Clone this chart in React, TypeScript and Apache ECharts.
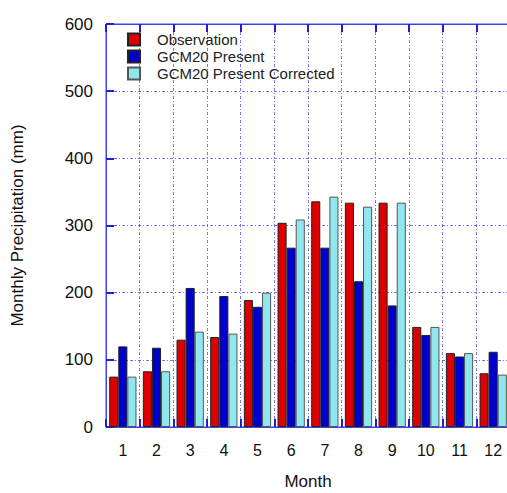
import React, { useEffect, useRef } from "react";
import * as echarts from "echarts";

const months = ["1", "2", "3", "4", "5", "6", "7", "8", "9", "10", "11", "12"];
const seriesNames = ["Observation", "GCM20 Present", "GCM20 Present Corrected"];
const observation = [75, 83, 130, 134, 189, 304, 336, 334, 334, 149, 110, 80];
const gcmPresent = [120, 118, 207, 195, 179, 267, 267, 217, 181, 137, 105, 112];
const gcmCorrected = [75, 83, 142, 139, 200, 309, 343, 328, 334, 149, 110, 78];
const yTicks = [0, 100, 200, 300, 400, 500, 600];

const colors = ["#DD0000", "#0000CC", "#90E8EE"];
const borders = ["#222222", "#222222", "#555555"];
const FONT = "Liberation Sans, Arial, sans-serif";
const AXIS_BLUE = "#4040E8";

export default function App() {
  const ref = useRef<HTMLDivElement>(null);
  useEffect(() => {
    if (!ref.current) return;
    const chart = echarts.init(ref.current, undefined, { renderer: "svg" });
    const values = [observation, gcmPresent, gcmCorrected];
    const gridLine = {
      show: true,
      lineStyle: { color: "#4848F0", width: 1, type: [3, 2, 1, 2] as any, opacity: 0.75 },
    };
    chart.setOption({
      animation: false,
      backgroundColor: "#ffffff",
      textStyle: { fontFamily: FONT },
      grid: {
        left: 106,
        top: 24,
        right: -3,
        bottom: 66,
        outerBoundsMode: "none",
        containLabel: false,
        show: true,
        borderColor: AXIS_BLUE,
        borderWidth: 1,
        backgroundColor: "transparent",
      },
      legend: {
        orient: "vertical",
        left: 127,
        top: 32,
        padding: 0,
        itemWidth: 12,
        itemHeight: 12,
        itemGap: 2,
        icon: "rect",
        data: seriesNames,
        textStyle: {
          fontSize: 15,
          lineHeight: 12,
          color: "#222",
          fontFamily: FONT,
          padding: [0, 0, 0, 12],
        },
      },
      xAxis: [
        {
          type: "category",
          data: months,
          boundaryGap: true,
          axisLine: { lineStyle: { color: AXIS_BLUE, width: 1 } },
          axisTick: { show: true, inside: true, length: 8, lineStyle: { color: "#2020D0", width: 2 } },
          axisLabel: { fontSize: 16, color: "#111", margin: 15, fontFamily: FONT },
          splitLine: gridLine,
          name: "Month",
          nameLocation: "middle",
          nameGap: 46,
          nameTextStyle: { fontSize: 17, color: "#111", fontFamily: FONT },
        },
        {
          type: "category",
          data: months,
          position: "top",
          boundaryGap: true,
          axisLine: { show: true, lineStyle: { color: AXIS_BLUE, width: 1 } },
          axisTick: { show: true, inside: true, length: 8, lineStyle: { color: "#2020D0", width: 2 } },
          axisLabel: { show: false },
          splitLine: { show: false },
        },
      ],
      yAxis: {
        type: "value",
        min: 0,
        max: 600,
        interval: 100,
        axisLine: { show: true, lineStyle: { color: AXIS_BLUE, width: 1 } },
        axisTick: { show: true, inside: true, length: 8, lineStyle: { color: "#2020D0", width: 2 } },
        axisLabel: {
          fontSize: 17,
          color: "#111",
          margin: 13,
          fontFamily: FONT,
          formatter: (v: number) => (yTicks.includes(v) ? String(v) : ""),
        },
        splitLine: gridLine,
        name: "Monthly Precipitation (mm)",
        nameLocation: "middle",
        nameGap: 80,
        nameTextStyle: { fontSize: 17, color: "#111", fontFamily: FONT },
      },
      series: seriesNames.map((name, i) => ({
        name,
        type: "bar",
        data: values[i],
        barGap: "0%",
        barCategoryGap: "19%",
        itemStyle: { color: colors[i], borderColor: borders[i], borderWidth: 1 },
        emphasis: { disabled: true },
      })),
    });
    return () => chart.dispose();
  }, []);
  return (
    <div
      ref={ref}
      style={{ position: "fixed", left: 0, top: 0, width: 507, height: 493, background: "#fff" }}
    />
  );
}
